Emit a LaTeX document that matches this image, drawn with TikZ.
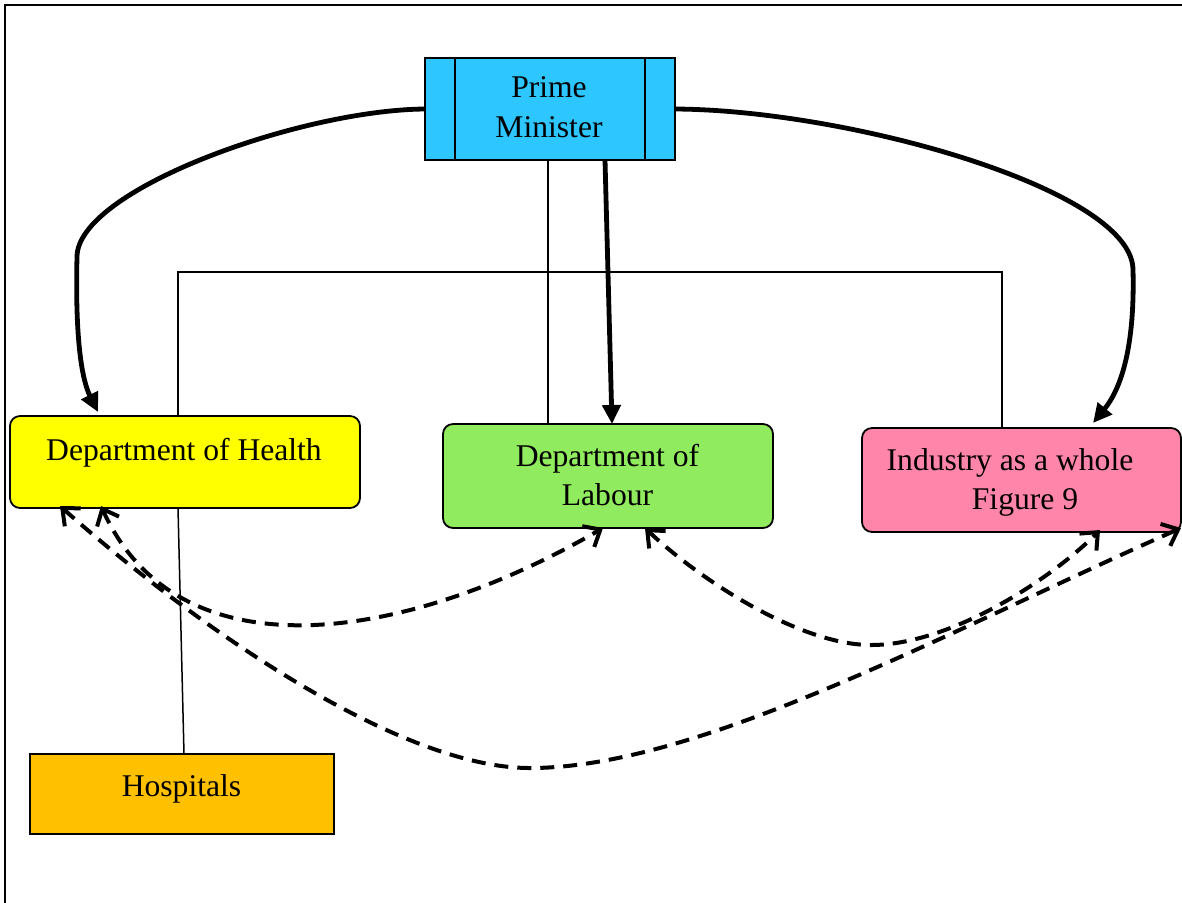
\documentclass[tikz,border=0pt]{standalone}
\usepackage{fontspec}
\setmainfont{Liberation Serif}
\usetikzlibrary{arrows.meta}
\definecolor{pmblue}{RGB}{46,198,255}
\definecolor{hyellow}{RGB}{255,255,0}
\definecolor{lgreen}{RGB}{144,235,94}
\definecolor{ipink}{RGB}{255,133,170}
\definecolor{horange}{RGB}{255,192,0}
\begin{document}
\begin{tikzpicture}[x=0.5pt,y=-0.5pt,
 box/.style={draw=black,line width=0.9pt,inner sep=0pt,outer sep=0pt},
 rbox/.style={box,rounded corners=5pt},
 lbl/.style={font=\fontsize{15.8}{19.5}\selectfont,inner sep=0pt,anchor=base},
 thinline/.style={line width=0.75pt},
 thickarrow/.style={line width=2.4pt,-{Triangle[length=9.5pt,width=9pt]}},
 dasharrow/.style={line width=2pt,dash pattern=on 7pt off 4.5pt,{Straight Barb[length=7pt,width=12pt]}-{Straight Barb[length=7pt,width=12pt]}}
]
\useasboundingbox (0,0) rectangle (1182,902);
\draw[line width=1.3pt] (5,5) rectangle (1200,920);

% boxes
\node[box,fill=pmblue,minimum width=125pt,minimum height=51pt] (pm) at (550,109) {};
\draw[line width=0.9pt] ([xshift=15pt]pm.north west) -- ([xshift=15pt]pm.south west);
\draw[line width=0.9pt] ([xshift=-15pt]pm.north east) -- ([xshift=-15pt]pm.south east);
\node[rbox,fill=hyellow,minimum width=175pt,minimum height=46pt] (health) at (185,462) {};
\node[rbox,fill=lgreen,minimum width=165pt,minimum height=52pt] (labour) at (608,476) {};
\node[rbox,fill=ipink,minimum width=159.5pt,minimum height=52pt] (industry) at (1021.5,480) {};
\node[box,fill=horange,minimum width=152pt,minimum height=40pt] (hospitals) at (182,794) {};

% labels
\node[lbl] (pmA) at (549,97) {Prime};
\node[lbl] (pmB) at (549,137) {Minister};
\node[lbl] (hA) at (184,460) {Department of Health};
\node[lbl] (lA) at (607.5,466) {Department of};
\node[lbl] (lB) at (607.5,505) {Labour};
\node[lbl] (iA) at (1010,470) {Industry as a whole};
\node[lbl] (iB) at (1025,509) {Figure 9};
\node[lbl] (hoA) at (181.5,796) {Hospitals};

% thin structure lines
\coordinate (bar) at (600,272);
\draw[thinline] ([xshift=-1pt]pm.south) -- ([xshift=-30pt]labour.north);
\draw[thinline] ([xshift=-3.5pt]health.north) |- (bar) -| ([xshift=-9.75pt]industry.north);
\draw[thinline] ([xshift=-3.5pt]health.south) -- ([xshift=1pt]hospitals.north);

% thick arrows
\draw[thickarrow] ([xshift=27.5pt]pm.south) -- ([xshift=2pt]labour.north);
\draw[thickarrow] (pm.west) .. controls (300,110) and (77,190) .. (77,257)
  .. controls (75,340) and (82,380) .. ([xshift=-43.5pt,yshift=2pt]health.north);
\draw[thickarrow] (pm.east) .. controls (850,110) and (1133,190) .. (1133,270)
  .. controls (1135,350) and (1120,390) .. ([xshift=35.75pt,yshift=2.5pt]industry.north);

% dashed two-way arrows
\draw[dasharrow] ([xshift=-42pt,yshift=1pt]health.south) .. controls (180,680) and (410,640) .. ([xshift=-2.5pt]labour.south);
\draw[dasharrow] ([xshift=-62.5pt,yshift=1pt]health.south) .. controls (200,630) and (400,768) .. (530,768)
  .. controls (700,768) and (950,630) .. ([yshift=2pt]industry.south east);
\draw[dasharrow] ([xshift=18.5pt]labour.south) .. controls (700,580) and (800,645) .. (871,645)
  .. controls (950,645) and (1050,580) .. ([xshift=39.25pt,yshift=1pt]industry.south);
\end{tikzpicture}
\end{document}
